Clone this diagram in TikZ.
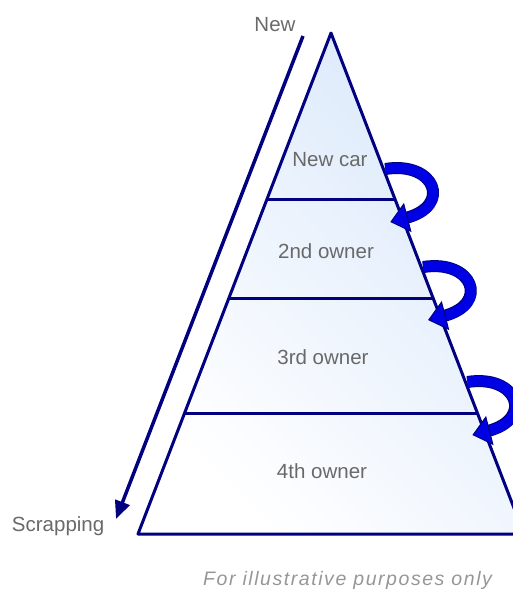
\documentclass[tikz,border=0pt]{standalone}
\usepackage{fontspec}
\setmainfont{Liberation Sans}
\newfontfamily\notefont[LetterSpace=8]{Liberation Sans Italic}
\usetikzlibrary{arrows.meta,calc}

\definecolor{navyline}{RGB}{0,0,128}
\definecolor{curlblue}{RGB}{0,0,228}
\definecolor{paleblue}{RGB}{219,233,251}
\definecolor{labelgrey}{RGB}{105,105,105}
\definecolor{notegrey}{RGB}{150,150,150}

% curled hand-over arrow next to the end of a level line
\newcommand\handover[1]{%
	\draw[navyline,line width=12pt,shorten >=16pt]
		($(#1)+(-10,-31)$) .. controls +(50,-8) and +(62,-16) .. ($(#1)+(-5,22)$);
	\draw[curlblue,line width=10pt,-{Triangle[length=18pt,width=30pt,fill=curlblue,color=navyline,line width=1pt]}]
		($(#1)+(-10,-31)$) .. controls +(50,-8) and +(62,-16) .. ($(#1)+(-5,22)$);
}

\begin{document}
\begin{tikzpicture}[line join=round,x=1pt,y=-1pt,
	level/.style={text=labelgrey,inner sep=0pt,anchor=base,font=\fontsize{20.5}{24}\selectfont}]
	\useasboundingbox (0,0) rectangle (513,590);
	
	\coordinate (apex) at (331,33);
	\coordinate (bl) at (138,534);
	\coordinate (br) at (524,534);
	
	\shade[top color=paleblue,bottom color=white,shading angle=-45] (apex) -- (bl) -- (br) -- cycle;
	
	% level lines
	\foreach \t/\n in {0.3333/1,0.529/2,0.7585/3}{
		\coordinate (l\n) at ($(apex)!\t!(bl)$);
		\coordinate (r\n) at ($(apex)!\t!(br)$);
		\draw[navyline,line width=3pt] (l\n) -- (r\n);
	}
	\draw[navyline,line width=3pt] (apex) -- (bl) -- (br) -- cycle;
	
	\handover{r1}
	\handover{r2}
	\handover{r3}
	
	\node[level] (car) at (330,166.7) {New car};
	\node[level] (second) at (326,258) {2nd owner};
	\node[level] (third) at (323,364.5) {3rd owner};
	\node[level] (fourth) at (322,478.5) {4th owner};
	
	\node[level] (new) at (275,31.5) {New};
	\node[level,anchor=base east] (scrap) at (104.5,531.7) {Scrapping};
	
	\coordinate (life) at (303,36);
	\coordinate (lifeend) at (116,519);
	\draw[navyline,line width=3.5pt,-{Triangle[length=18pt,width=15pt]}] (life) -- (lifeend);
	
	\node[text=notegrey,inner sep=0pt,anchor=base west,font=\notefont\fontsize{19.5}{24}\selectfont] (note) at (203,585) {For illustrative purposes only};
\end{tikzpicture}
\end{document}
